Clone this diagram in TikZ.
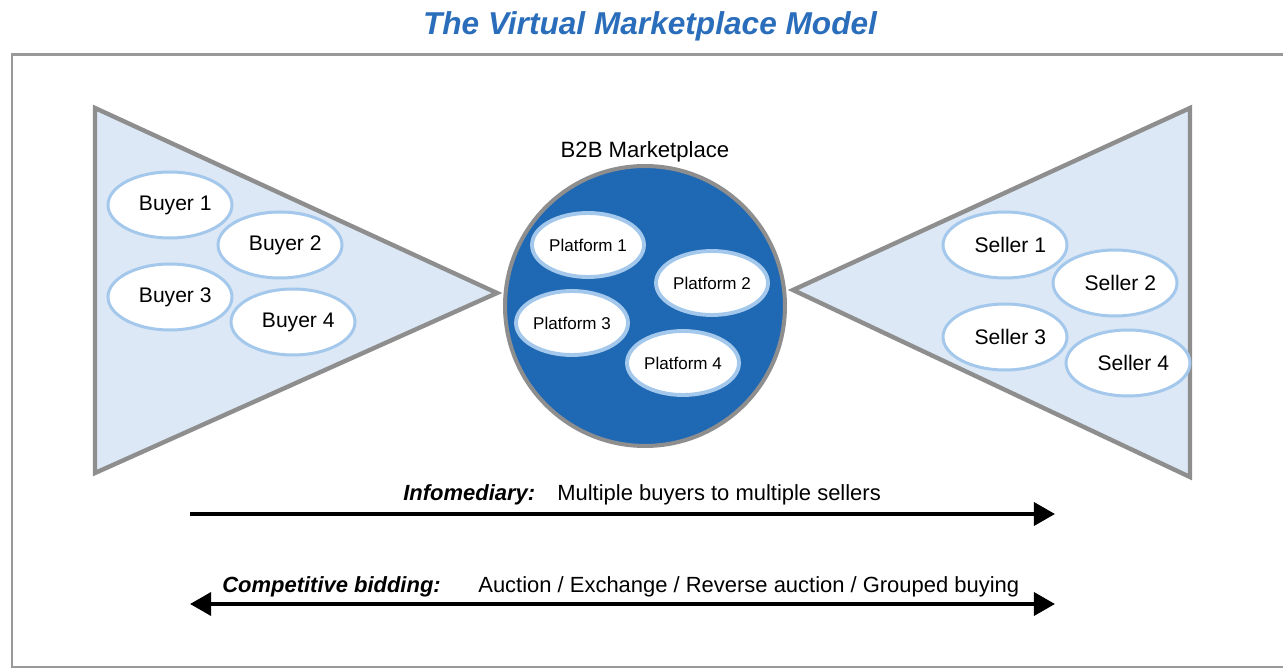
\documentclass[tikz,border=0pt]{standalone}
\usepackage{fontspec}
\setmainfont{Liberation Sans}
\usetikzlibrary{shapes.geometric,arrows.meta,positioning}
\definecolor{titleblue}{HTML}{2A6EBB}
\definecolor{fanfill}{HTML}{DCE8F5}
\definecolor{fanedge}{HTML}{8E8E8E}
\definecolor{hubblue}{HTML}{1E68B4}
\definecolor{ringblue}{HTML}{A4C8EC}

\begin{document}
\begin{tikzpicture}[x=0.02cm,y=-0.02cm,
  party/.style={ellipse,draw=ringblue,line width=1.7pt,fill=white,
    minimum width=2.48cm,minimum height=1.32cm,inner sep=0pt,
    font=\fontsize{12}{14}\selectfont},
  platform/.style={ellipse,draw=ringblue,line width=2.2pt,fill=white,
    minimum width=2.24cm,minimum height=1.28cm,inner sep=0pt,
    font=\fontsize{9.7}{11}\selectfont},
  fan/.style={fill=fanfill,draw=fanedge,line width=2.5pt,line join=miter},
  flow/.style={line width=2.3pt,-{Triangle[length=12pt,width=13pt]}},
  caption/.style={font=\fontsize{12.5}{14}\selectfont,anchor=west,inner sep=0pt}]

  \useasboundingbox (0,0) rectangle (1283,671);

  \small

  %% title and frame
  \node[font=\fontsize{18}{20}\selectfont\bfseries\itshape,text=titleblue] (title) at (650,26) {The Virtual Marketplace Model};
  \draw[fanedge!90,line width=1.7pt] (12,55) rectangle (1300,667);

  %% the two fans
  \draw[fan] (95,108) -- (497,293) -- (95,473) -- cycle;
  \draw[fan] (1190,108) -- (793,290) -- (1190,477) -- cycle;

  %% buyers
  \node[party] (buyer1) at (170,205) {\hspace{6pt}Buyer 1};
  \node[party] (buyer2) at (280,245) {\hspace{6pt}Buyer 2};
  \node[party] (buyer3) at (170,297) {\hspace{6pt}Buyer 3};
  \node[party] (buyer4) at (293,322) {\hspace{6pt}Buyer 4};

  %% sellers
  \node[party] (seller1) at (1005,245) {\hspace{6pt}Seller 1};
  \node[party] (seller2) at (1115,283) {\hspace{6pt}Seller 2};
  \node[party] (seller3) at (1005,337) {\hspace{6pt}Seller 3};
  \node[party] (seller4) at (1128,363) {\hspace{6pt}Seller 4};

  %% marketplace
  \node[circle,draw=fanedge,line width=2.3pt,fill=hubblue,minimum size=5.6cm] (hub) at (645,306) {};
  \node[above=1pt of hub,font=\fontsize{12.6}{14}\selectfont,inner sep=0pt] (hubname) {B2B Marketplace};

  \node[platform] (plat1) at (588,245) {Platform 1};
  \node[platform] (plat2) at (712,283) {Platform 2};
  \node[platform] (plat3) at (572,323) {Platform 3};
  \node[platform] (plat4) at (683,363) {Platform 4};

  %% arrows
  \coordinate (infoL) at (190,514);
  \coordinate (infoR) at (1055,514);
  \coordinate (bidL) at (190,604);
  \coordinate (bidR) at (1055,604);

  \draw[flow] (infoL) -- (infoR);
  \draw[flow,{Triangle[length=12pt,width=13pt]}-{Triangle[length=12pt,width=13pt]}] (bidL) -- (bidR);

  \node[caption,font=\fontsize{12.5}{14}\selectfont\bfseries\itshape] (infohead) at (403,495) {Infomediary:};
  \node[caption] (infotext) at (557,495) {Multiple buyers to multiple sellers};
  \node[caption,font=\fontsize{12.5}{14}\selectfont\bfseries\itshape] (bidhead) at (222,587) {Competitive bidding:};
  \node[caption] (bidtext) at (478,587) {Auction / Exchange / Reverse auction / Grouped buying};
\end{tikzpicture}
\end{document}
